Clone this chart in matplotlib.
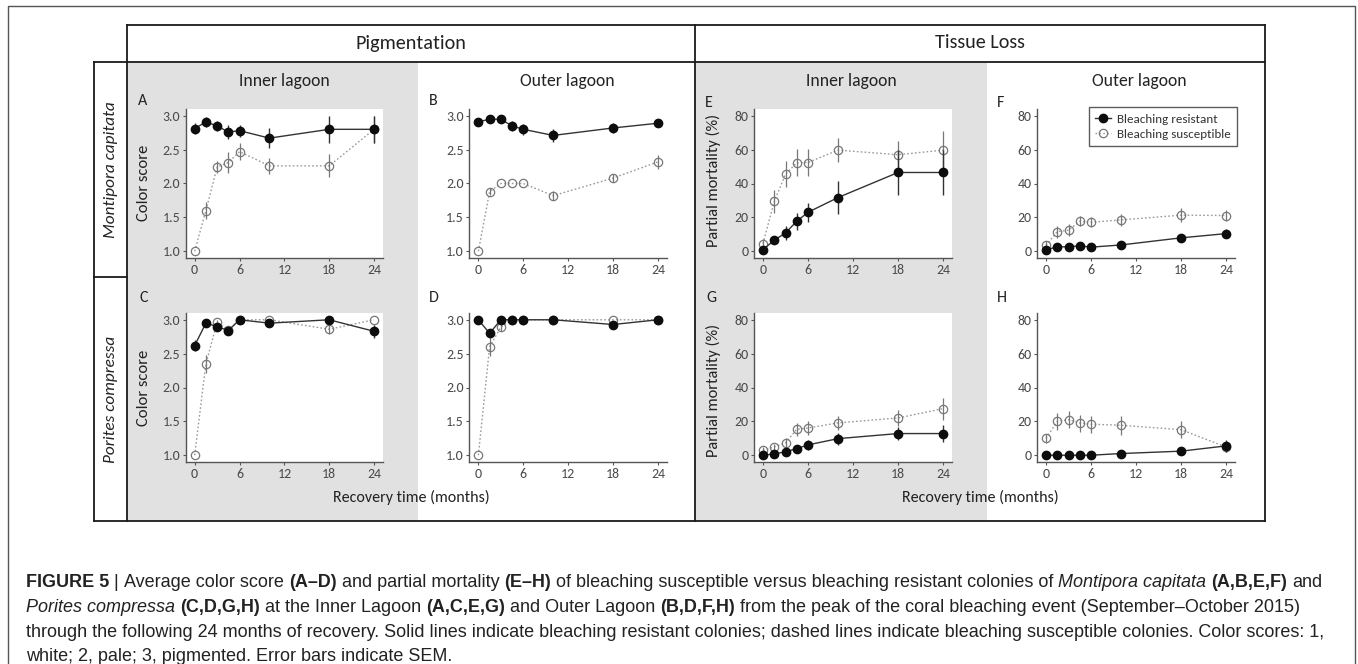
import matplotlib
matplotlib.use('Agg')
import matplotlib.pyplot as plt
from matplotlib import font_manager
from matplotlib.patches import Rectangle
from matplotlib.lines import Line2D

W, H = 1358, 664

# ---------------- data ----------------
months = [0, 1.5, 3, 4.5, 6, 10, 18, 24]

# Colour score - Montipora capitata, inner lagoon (A)
A_res = [2.81, 2.91, 2.85, 2.76, 2.78, 2.67, 2.80, 2.80]
A_res_se = [0.08, 0.07, 0.08, 0.10, 0.09, 0.15, 0.20, 0.20]
A_sus = [1.00, 1.60, 2.24, 2.31, 2.47, 2.26, 2.26, 2.80]
A_sus_se = [0.0, 0.13, 0.09, 0.15, 0.13, 0.12, 0.17, 0.20]
# Colour score - Montipora capitata, outer lagoon (B)
B_res = [2.91, 2.95, 2.95, 2.85, 2.80, 2.71, 2.82, 2.89]
B_res_se = [0.05, 0.04, 0.04, 0.07, 0.08, 0.10, 0.08, 0.06]
B_sus = [1.00, 1.88, 2.00, 2.00, 2.00, 1.82, 2.08, 2.32]
B_sus_se = [0.0, 0.05, 0.0, 0.0, 0.0, 0.07, 0.06, 0.10]
# Colour score - Porites compressa, inner lagoon (C)
C_res = [2.62, 2.95, 2.90, 2.84, 3.00, 2.95, 3.00, 2.83]
C_res_se = [0.08, 0.03, 0.05, 0.06, 0.0, 0.04, 0.0, 0.10]
C_sus = [1.00, 2.35, 2.96, 2.85, 3.00, 3.00, 2.86, 3.00]
C_sus_se = [0.0, 0.13, 0.04, 0.05, 0.0, 0.0, 0.07, 0.0]
# Colour score - Porites compressa, outer lagoon (D)
D_res = [3.00, 2.80, 3.00, 3.00, 3.00, 3.00, 2.93, 3.00]
D_res_se = [0.0, 0.07, 0.0, 0.0, 0.0, 0.0, 0.05, 0.0]
D_sus = [1.00, 2.60, 2.89, 3.00, 3.00, 3.00, 3.00, 3.00]
D_sus_se = [0.0, 0.13, 0.06, 0.0, 0.0, 0.0, 0.0, 0.0]
# Partial mortality - Montipora capitata, inner lagoon (E)
E_res = [1.0, 6.5, 10.8, 17.7, 23.0, 31.7, 46.5, 46.5]
E_res_se = [1.0, 2.5, 4.0, 5.0, 5.5, 10.0, 13.0, 13.0]
E_sus = [4.5, 29.4, 45.5, 52.2, 52.4, 59.7, 57.0, 59.7]
E_sus_se = [3.0, 7.0, 7.5, 8.0, 8.0, 7.0, 8.0, 11.5]
# Partial mortality - Montipora capitata, outer lagoon (F)
F_res = [0.8, 2.6, 2.6, 3.2, 2.4, 3.7, 7.9, 10.4]
F_res_se = [1.0, 0.8, 0.8, 0.8, 0.8, 2.0, 2.5, 2.5]
F_sus = [3.5, 11.6, 12.4, 17.7, 17.1, 18.5, 21.3, 21.1]
F_sus_se = [2.5, 3.5, 3.5, 3.0, 3.0, 3.5, 4.0, 3.0]
# Partial mortality - Porites compressa, inner lagoon (G)
G_res = [0.0, 0.8, 2.0, 3.9, 6.1, 9.8, 12.8, 12.8]
G_res_se = [1.0, 1.0, 1.0, 1.5, 3.0, 3.5, 4.0, 5.0]
G_sus = [2.9, 4.9, 7.3, 15.3, 16.1, 19.1, 22.0, 27.5]
G_sus_se = [2.0, 2.0, 3.0, 4.0, 4.0, 4.0, 4.5, 6.5]
# Partial mortality - Porites compressa, outer lagoon (H)
H_res = [0.0, 0.0, 0.0, 0.0, 0.0, 1.0, 2.4, 5.5]
H_res_se = [0.0, 0.0, 0.0, 0.0, 0.0, 1.0, 1.0, 3.5]
H_sus = [10.0, 20.0, 21.0, 19.0, 18.3, 17.7, 15.1, 4.9]
H_sus_se = [2.5, 5.0, 5.0, 5.0, 5.0, 5.5, 5.0, 3.0]

x_ticks = [0, 6, 12, 18, 24]
color_ticks = [1.0, 1.5, 2.0, 2.5, 3.0]
mort_ticks = [0, 20, 40, 60, 80]

series_labels = ['Bleaching resistant', 'Bleaching susceptible']
col_headers = ['Pigmentation', 'Tissue Loss']
site_labels = ['Inner lagoon', 'Outer lagoon']
row_labels = ['Montipora capitata', 'Porites compressa']
panel_letters = ['A', 'B', 'C', 'D', 'E', 'F', 'G', 'H']
ylabels = ['Color score', 'Partial mortality (%)']
xlabel = 'Recovery time (months)'

caption_lines = [
    [("FIGURE 5", 'b'), (" | ", 'n'), ("Average color score ", 'n'), ("(A\u2013D)", 'b'),
     (" and partial mortality ", 'n'), ("(E\u2013H)", 'b'),
     (" of bleaching susceptible versus bleaching resistant colonies of ", 'n'),
     ("Montipora capitata", 'i'), (" ", 'n'), ("(A,B,E,F)", 'b'), (" and", 'n')],
    [("Porites compressa", 'i'), (" ", 'n'), ("(C,D,G,H)", 'b'), (" at the Inner Lagoon ", 'n'),
     ("(A,C,E,G)", 'b'), (" and Outer Lagoon ", 'n'), ("(B,D,F,H)", 'b'),
     (" from the peak of the coral bleaching event (September\u2013October 2015)", 'n')],
    [("through the following 24 months of recovery. Solid lines indicate bleaching resistant "
      "colonies; dashed lines indicate bleaching susceptible colonies. Color scores: 1,", 'n')],
    [("white; 2, pale; 3, pigmented. Error bars indicate SEM.", 'n')],
]

# ---------------- fonts ----------------
avail = {f.name for f in font_manager.fontManager.ttflist}
def pick(*names):
    for n in names:
        if n in avail:
            return n
    return 'DejaVu Sans'
PF = pick('Carlito', 'Lato', 'Open Sans', 'DejaVu Sans')
CF = pick('Liberation Sans', 'Arimo', 'DejaVu Sans')
plt.rcParams['font.family'] = [PF, 'DejaVu Sans']

fig = plt.figure(figsize=(W / 100, H / 100), dpi=100)
fig.patch.set_facecolor('white')

def fx(x):
    return x / W
def fy(y):
    return 1 - y / H

# ---------------- frame / background ----------------
GRAY = '#e1e1e1'
for (x0, x1) in [(127, 418), (695, 987)]:
    fig.patches.append(Rectangle((fx(x0), fy(521)), (x1 - x0) / W, (521 - 62) / H,
                                 transform=fig.transFigure, facecolor=GRAY,
                                 edgecolor='none', zorder=-5))

def fline(xs, ys, lw=1.3, color='#1a1a1a', z=10):
    fig.lines.append(Line2D([fx(v) for v in xs], [fy(v) for v in ys], transform=fig.transFigure,
                            color=color, lw=lw, zorder=z, solid_capstyle='projecting'))

# outer thin frame
fline([8, 8, 1355, 1355], [700, 6, 6, 700], lw=1.0, color='#555555')
# main table
fline([127, 1265], [25, 25])
fline([94, 1265], [62, 62])
fline([94, 1265], [521, 521])
fline([94, 94], [62, 521])
fline([127, 127], [25, 521])
fline([695, 695], [25, 521])
fline([1265, 1265], [25, 521])
fline([94, 127], [277, 277])

# ---------------- text labels ----------------
TXT = '#222222'
fig.text(fx(411), fy(43), col_headers[0], ha='center', va='center', fontsize=14.5, color=TXT)
fig.text(fx(980), fy(43), col_headers[1], ha='center', va='center', fontsize=14.5, color=TXT)
for xc, lab in [(284, site_labels[0]), (567, site_labels[1]), (851, site_labels[0]), (1139, site_labels[1])]:
    fig.text(fx(xc), fy(81), lab, ha='center', va='center', fontsize=12.7, color=TXT)
fig.text(fx(111), fy(170), row_labels[0], ha='center', va='center', rotation=90,
         fontsize=12.4, style='italic', color=TXT)
fig.text(fx(111), fy(399), row_labels[1], ha='center', va='center', rotation=90,
         fontsize=12.4, style='italic', color=TXT)
for xc in (411, 980):
    fig.text(fx(xc), fy(497), xlabel, ha='center', va='center', fontsize=11.5, color=TXT)
letter_pos = [(143, 101), (433, 101), (144, 298), (434, 298),
              (709, 103), (1001, 103), (711, 298), (1002, 298)]
for (lx, ly), L in zip(letter_pos, panel_letters):
    fig.text(fx(lx), fy(ly), L, ha='center', va='center', fontsize=11.5, color=TXT)
for yc in (183, 388):
    fig.text(fx(144), fy(yc), ylabels[0], ha='center', va='center', rotation=90, fontsize=12, color=TXT)
for yc in (180, 390):
    fig.text(fx(713), fy(yc), ylabels[1], ha='center', va='center', rotation=90, fontsize=11.8, color=TXT)

# ---------------- panels ----------------
cols_x = [(185.7, 383), (469.4, 667), (754, 952), (1037, 1235)]
rows_y = [(109, 258), (313, 462)]

panels = [
    (0, 0, A_res, A_res_se, A_sus, A_sus_se, 'c', True),
    (0, 1, B_res, B_res_se, B_sus, B_sus_se, 'c', False),
    (1, 0, C_res, C_res_se, C_sus, C_sus_se, 'c', True),
    (1, 1, D_res, D_res_se, D_sus, D_sus_se, 'c', False),
    (0, 2, E_res, E_res_se, E_sus, E_sus_se, 'm', True),
    (0, 3, F_res, F_res_se, F_sus, F_sus_se, 'm', False),
    (1, 2, G_res, G_res_se, G_sus, G_sus_se, 'm', True),
    (1, 3, H_res, H_res_se, H_sus, H_sus_se, 'm', False),
]

RES_C = '#0d0d0d'
SUS_LINE = '#9a9a9a'
SUS_MARK = '#777777'
AX_C = '#555555'
MS = 6.0
DOT = (0, (1.2, 1.6))

for r, c, res, rse, sus, sse, kind, white in panels:
    x0, x1 = cols_x[c]
    y0, y1 = rows_y[r]
    ax = fig.add_axes([fx(x0), fy(y1), (x1 - x0) / W, (y1 - y0) / H])
    ax.set_facecolor('white' if white else 'none')
    ax.plot(months, sus, linestyle=DOT, color=SUS_LINE, lw=1.0, zorder=2)
    ax.errorbar(months, sus, yerr=sse, fmt='none', ecolor=SUS_MARK, elinewidth=0.9, zorder=3)
    ax.plot(months, sus, 'o', ms=MS, mfc='none', mec=SUS_MARK, mew=0.9, zorder=4)
    ax.plot(months, res, '-', color='#333333', lw=1.0, zorder=5)
    ax.errorbar(months, res, yerr=rse, fmt='none', ecolor='#333333', elinewidth=1.0, zorder=6)
    ax.plot(months, res, 'o', ms=MS, color=RES_C, mec=RES_C, zorder=7)
    ax.set_xlim(-1.2, 25.2)
    ax.set_xticks(x_ticks)
    if kind == 'c':
        ax.set_ylim(0.9, 3.1)
        ax.set_yticks(color_ticks)
        ax.set_yticklabels(['%.1f' % v for v in color_ticks])
    else:
        ax.set_ylim(-4, 84)
        ax.set_yticks(mort_ticks)
        ax.set_yticklabels([str(v) for v in mort_ticks])
    for s in ('top', 'right'):
        ax.spines[s].set_visible(False)
    for s in ('left', 'bottom'):
        ax.spines[s].set_color(AX_C)
        ax.spines[s].set_linewidth(1.0)
    ax.tick_params(axis='both', length=2.5, width=0.8, color=AX_C, labelcolor='#4a4a4a',
                   labelsize=10, pad=1.5)

# legend in panel F
h_res = Line2D([0], [0], color='#333333', lw=1.0, marker='o', ms=MS, mfc=RES_C, mec=RES_C)
h_sus = Line2D([0], [0], color=SUS_LINE, lw=1.0, linestyle=DOT, marker='o', ms=MS,
               mfc='none', mec=SUS_MARK, mew=0.9)
leg = fig.legend([h_res, h_sus], series_labels, loc='upper right',
                 bbox_to_anchor=(fx(1237), fy(107)), bbox_transform=fig.transFigure,
                 frameon=True, fancybox=False, fontsize=9.4, handlelength=1.2,
                 handletextpad=0.45, borderpad=0.5, labelspacing=0.3, borderaxespad=0)
leg.get_frame().set_edgecolor('#333333')
leg.get_frame().set_linewidth(1.0)
for t in leg.get_texts():
    t.set_color('#333333')

# ---------------- caption (mixed styles) ----------------
renderer = fig.canvas.get_renderer()
STY = {'n': dict(fontweight='normal', fontstyle='normal'),
       'b': dict(fontweight='bold', fontstyle='normal'),
       'i': dict(fontweight='normal', fontstyle='italic')}

def seg_w(txt, size, st):
    a = fig.text(0, 0, '|' + txt + '|', fontsize=size, family=[CF, 'DejaVu Sans'], **STY[st])
    b = fig.text(0, 0, '||', fontsize=size, family=[CF, 'DejaVu Sans'], **STY[st])
    w = a.get_window_extent(renderer).width - b.get_window_extent(renderer).width
    a.remove(); b.remove()
    return w

x_start, x_end_target = 26, 1327
base = 12.0
w1 = sum(seg_w(t, base, s) for t, s in caption_lines[0])
cap_size = base * (x_end_target - x_start) / w1

baselines = [587, 612, 637, 661]
for line, yb in zip(caption_lines, baselines):
    x = x_start
    for txt, st in line:
        stripped = txt.lstrip(' ')
        lead = seg_w(txt[:len(txt) - len(stripped)], cap_size, st) if stripped != txt else 0
        if stripped.strip():
            fig.text(fx(x + lead), fy(yb), stripped, fontsize=cap_size, family=[CF, 'DejaVu Sans'],
                     ha='left', va='baseline', color='#222222', **STY[st])
        x += seg_w(txt, cap_size, st)

fig.savefig('out.png', dpi=100, facecolor='white')
